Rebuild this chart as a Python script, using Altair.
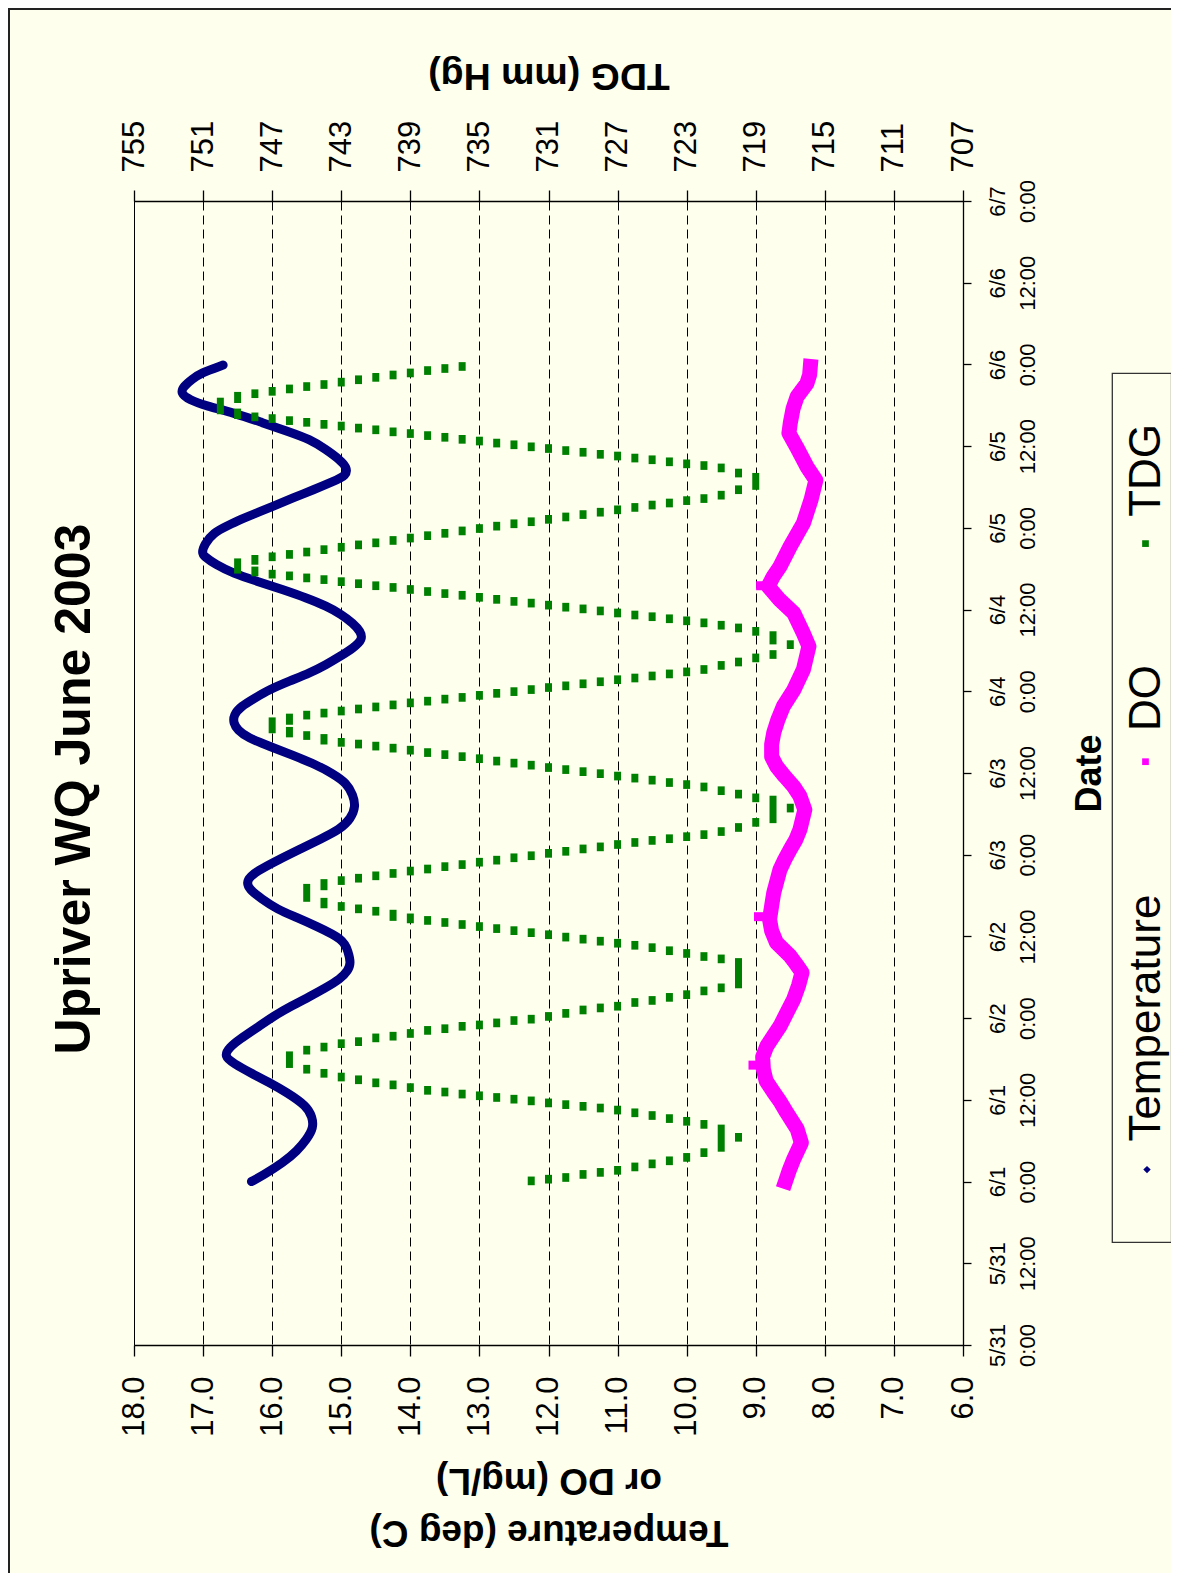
import json
import altair as alt
import pandas as pd

FONT = "Liberation Sans"
BG = "#FFFFEE"

# ---------------- data (hours after 6/1 0:00) ----------------
temp_h = [0.0, 1.0, 2.8, 4.5, 6.2, 7.9, 9.5, 11.1, 13.1, 14.6, 16.0, 17.3, 18.4, 19.7, 20.9, 22.6,
          24.3, 25.8, 27.2, 28.5, 29.7, 31.0, 32.1, 33.8, 35.6, 37.5, 38.8, 40.0, 41.5, 42.9, 43.9,
          44.8, 45.8, 47.3, 48.8, 50.3, 51.7, 53.3, 55.1, 56.8, 58.5, 59.9, 61.2, 62.6, 63.9, 65.2,
          66.3, 67.3, 68.5, 69.8, 71.0, 72.2, 73.5, 74.7, 75.9, 77.1, 78.4, 79.6, 80.8, 82.0, 83.3,
          84.5, 85.7, 86.9, 88.1, 89.3, 90.6, 91.8, 92.3, 93.6, 95.3, 96.3, 97.2, 98.2, 99.2, 100.4,
          101.6, 102.8, 103.7, 104.9, 106.0, 107.5, 109.0, 110.2, 111.4, 112.9, 113.9, 114.8, 115.8,
          116.8, 117.8, 118.7, 119.9]
temp_c = [16.30, 16.12, 15.84, 15.64, 15.50, 15.40, 15.42, 15.50, 15.79, 16.05, 16.32, 16.55, 16.70,
          16.62, 16.47, 16.22, 15.98, 15.72, 15.45, 15.22, 15.02, 14.90, 14.86, 14.90, 14.97, 15.36,
          15.65, 15.93, 16.15, 16.33, 16.37, 16.32, 16.18, 15.90, 15.60, 15.30, 15.02, 14.86, 14.79,
          14.83, 14.92, 15.12, 15.36, 15.70, 16.03, 16.36, 16.50, 16.56, 16.56, 16.45, 16.25, 16.05,
          15.75, 15.45, 15.22, 15.02, 14.82, 14.69, 14.72, 14.83, 15.00, 15.21, 15.50, 15.84, 16.20,
          16.56, 16.82, 16.98, 17.02, 16.98, 16.85, 16.65, 16.47, 16.22, 15.98, 15.70, 15.40, 15.12,
          14.92, 14.92, 15.02, 15.22, 15.45, 15.78, 16.13, 16.56, 16.95, 17.20, 17.33, 17.28, 17.16,
          17.04, 16.71]

do_h = [0.0, 1.5, 3.3, 5.7, 7.7, 10.1, 11.8, 13.1, 14.8, 16.5, 18.3, 19.9, 21.3, 22.8, 24.8, 26.8,
        28.8, 30.7, 32.0, 33.1, 35.1, 36.8, 38.5, 40.5, 42.4, 45.8, 47.3, 48.8, 50.2, 51.7, 54.6,
        56.6, 58.0, 59.5, 61.0, 62.4, 64.2, 65.9, 67.8, 69.8, 72.2, 75.2, 78.6, 80.5, 83.5, 85.4,
        87.4, 88.8, 90.3, 93.3, 96.7, 100.1, 103.0, 105.0, 107.9, 109.9, 111.4, 113.5, 115.3, 117.2,
        118.5, 119.7]
do_mgl = [8.57, 8.52, 8.45, 8.34, 8.40, 8.55, 8.65, 8.74, 8.85, 8.89, 8.90, 8.84, 8.75, 8.65, 8.55,
          8.45, 8.38, 8.33, 8.42, 8.50, 8.70, 8.77, 8.80, 8.77, 8.74, 8.65, 8.58, 8.50, 8.42, 8.36,
          8.29, 8.36, 8.45, 8.58, 8.70, 8.77, 8.77, 8.74, 8.68, 8.60, 8.45, 8.31, 8.23, 8.31, 8.45,
          8.65, 8.82, 8.75, 8.65, 8.50, 8.31, 8.20, 8.13, 8.26, 8.41, 8.52, 8.50, 8.46, 8.40, 8.26,
          8.22, 8.21]
# isolated DO readings sticking out of the band
do_spike_h = [17.1, 38.9, 87.5]
do_spike_mgl = [9.04, 8.96, 8.93]

# single TDG readings
tdg_dot_mmhg = (
    [732, 731, 730, 729, 728, 727, 726, 725, 724, 723, 722, 720]
    + [722, 723, 724, 725, 726, 727, 728, 729, 730, 731, 732, 733, 734, 735, 736, 737, 738, 739, 740, 741, 742, 743, 744, 745]
    + [745, 744, 743, 742, 741, 740, 739, 738, 737, 736, 735, 734, 733, 732, 731, 730, 729, 728, 727, 726, 725, 724, 723, 722, 721]
    + [721, 722, 723, 724, 725, 726, 727, 728, 729, 730, 731, 732, 733, 734, 735, 736, 737, 738, 741, 742, 743]
    + [743, 742, 741, 740, 739, 738, 737, 736, 735, 734, 733, 732, 731, 730, 729, 728, 727, 726, 725, 724, 723, 722, 721, 720, 719, 717]
    + [719, 720, 721, 722, 723, 724, 725, 726, 727, 728, 729, 730, 731, 732, 733, 734, 735, 736, 737, 738, 739, 740, 741, 742, 743, 745]
    + [745, 744, 743, 742, 741, 740, 739, 738, 737, 736, 735, 734, 733, 732, 731, 730, 729, 728, 727, 726, 725, 724, 723, 722, 721, 720, 719, 718, 717, 719, 720, 721, 722]
    + [723, 724, 725, 726, 727, 728, 729, 730, 731, 732, 733, 734, 735, 736, 737, 738, 739, 740, 741, 742, 743, 744, 745, 746, 747]
    + [747, 746, 745, 744, 743, 742, 741, 740, 739, 738, 737, 736, 735, 734, 733, 732, 731, 730, 729, 728, 727, 726, 725, 724, 723, 722, 721, 720]
    + [720, 721, 722, 723, 724, 725, 726, 727, 728, 729, 730, 731, 732, 733, 734, 735, 736, 737, 738, 739, 740, 741, 742, 743, 744, 745, 746, 747, 748]
    + [748, 747, 746, 745, 744, 743, 742, 741, 740, 739, 738, 737, 736]
)
tdg_dot_h = (
    [0.1, 0.35, 0.6, 1.05, 1.35, 1.65, 2.15, 2.6, 3.05, 3.55, 4.25, 6.5]
    + [8.4, 8.85, 9.25, 9.7, 10.1, 10.5, 10.8, 11.05, 11.3, 11.55, 11.85, 12.1, 12.35, 12.6, 12.85, 13.15, 13.4, 13.8, 14.2, 14.5, 14.95, 15.35, 15.9, 16.5]
    + [19.3, 19.75, 20.25, 20.55, 21.1, 21.35, 21.75, 22.2, 22.45, 22.8, 23.0, 23.3, 23.65, 23.85, 24.25, 24.7, 25.2, 25.5, 25.75, 26.3, 26.6, 27.05, 27.45, 28.0, 28.45]
    + [32.7, 33.05, 33.5, 33.9, 34.35, 34.7, 35.0, 35.3, 35.6, 35.9, 36.25, 36.55, 36.85, 37.15, 37.45, 37.75, 38.05, 38.35, 39.7, 40.05, 40.4]
    + [44.2, 44.55, 44.9, 45.25, 45.6, 45.9, 46.25, 46.55, 46.9, 47.2, 47.55, 47.85, 48.2, 48.5, 48.85, 49.15, 49.5, 49.8, 50.1, 50.35, 50.65, 50.95, 51.4, 52.0, 52.75, 54.85]
    + [56.35, 56.9, 57.4, 57.95, 58.3, 58.6, 58.95, 59.25, 59.55, 59.9, 60.2, 60.5, 60.8, 61.15, 61.45, 61.75, 62.1, 62.4, 62.7, 63.0, 63.35, 63.65, 63.95, 64.25, 64.5, 65.5]
    + [68.5, 68.8, 69.1, 69.4, 69.7, 70.0, 70.3, 70.55, 70.85, 71.1, 71.4, 71.7, 71.95, 72.25, 72.55, 72.8, 73.1, 73.4, 73.7, 73.95, 74.25, 74.55, 74.85, 75.2, 75.8, 76.3, 76.9, 77.4, 78.85, 80.8, 81.3, 81.7, 82.05]
    + [82.35, 82.65, 82.95, 83.2, 83.5, 83.8, 84.1, 84.35, 84.65, 84.95, 85.2, 85.5, 85.8, 86.1, 86.35, 86.65, 86.95, 87.25, 87.5, 87.8, 88.1, 88.4, 88.65, 88.95, 89.2]
    + [91.75, 92.1, 92.45, 92.8, 93.15, 93.5, 93.8, 94.15, 94.5, 94.85, 95.2, 95.55, 95.9, 96.25, 96.6, 96.9, 97.25, 97.6, 97.95, 98.3, 98.65, 99.0, 99.35, 99.65, 100.0, 100.3, 100.8, 101.6]
    + [104.05, 104.8, 105.15, 105.4, 105.7, 106.0, 106.25, 106.55, 106.8, 107.1, 107.35, 107.65, 107.9, 108.2, 108.45, 108.75, 109.0, 109.3, 109.55, 109.85, 110.1, 110.4, 110.65, 110.95, 111.2, 111.5, 111.75, 112.05, 112.3]
    + [115.7, 116.05, 116.4, 116.75, 117.05, 117.4, 117.75, 118.1, 118.45, 118.75, 119.1, 119.4, 119.7]
)
# runs of repeated TDG readings (same value over a span of time)
tdg_run_mmhg = [721, 746, 720, 739, 740, 744, 745, 744, 718, 744, 746, 747, 746, 718, 748, 749, 748, 719, 749, 750, 749]
tdg_run_from_h = [4.9, 17.2, 28.9, 38.45, 38.8, 40.65, 41.6, 43.3, 53.15, 64.7, 65.75, 66.35, 67.6, 79.4, 89.4, 89.8, 91.1, 102.1, 112.5, 113.2, 114.85]
tdg_run_to_h = [7.85, 18.6, 32.3, 38.85, 39.4, 41.15, 43.2, 43.9, 56.15, 65.2, 66.25, 67.65, 68.2, 80.3, 89.8, 91.0, 91.5, 103.55, 113.0, 114.6, 115.45]

temp_ticks = list(range(6, 19))
tdg_ticks = list(range(707, 756, 4))
date_tick_hours = list(range(0, 169, 12))
date_tick_day = ["5/31", "5/31", "6/1", "6/1", "6/2", "6/2", "6/3", "6/3", "6/4", "6/4", "6/5", "6/5", "6/6", "6/6", "6/7"]
date_tick_time = ["0:00", "12:00"] * 7 + ["0:00"]
legend_labels = ["Temperature", "DO", "TDG"]
chart_title = "Upriver WQ June 2003"

# ---------------- frames ----------------
temp_df = pd.DataFrame({"hr": [h + 24 for h in temp_h], "val": temp_c})
do_df = pd.DataFrame({"hr": [h + 24 for h in do_h], "val": do_mgl})
do_spike_df = pd.DataFrame({"hr": [h + 24 for h in do_spike_h], "val": do_spike_mgl})
tdg_dot_df = pd.DataFrame({"hr": [h + 24 for h in tdg_dot_h], "mmhg": tdg_dot_mmhg})
tdg_run_df = pd.DataFrame({"hr": [h + 24 for h in tdg_run_from_h],
                           "hr2": [h + 24 for h in tdg_run_to_h], "mmhg": tdg_run_mmhg})
one = pd.DataFrame({"k": [0]})

label_pairs = [[d, t] for d, t in zip(date_tick_day, date_tick_time)]
date_label_expr = json.dumps(label_pairs) + "[round(datum.value / 12)]"

common_axis = dict(labelFont=FONT, labelColor="black", labelFlush=False, labelOverlap=False,
                   tickColor="black", tickWidth=1.3, domainColor="black", domainWidth=1.3,
                   titleFont=FONT, titleColor="black", titleFontWeight="bold",
                   titleAlign="center", titleBaseline="alphabetic")

temp_axis = alt.Axis(orient="bottom", values=temp_ticks, format=".1f", labelAngle=270,
                     labelAlign="right", labelBaseline="middle", labelFontSize=31, labelPadding=20,
                     tickSize=11, grid=True, gridColor="black", gridDash=[9, 5], gridWidth=1,
                     title=["Temperature (deg C)", "or DO (mg/L)"], titleAngle=180, titleFontSize=37,
                     titleX=414.5, titleY=175, titleLineHeight=52, **common_axis)
tdg_axis = alt.Axis(orient="top", values=tdg_ticks, format="d", labelAngle=270,
                    labelAlign="left", labelBaseline="middle", labelFontSize=31, labelPadding=18,
                    tickSize=11, grid=False, title="TDG (mm Hg)", titleAngle=180, titleFontSize=37.5,
                    titleX=414.5, titleY=-138, **common_axis)
date_axis = alt.Axis(orient="right", values=date_tick_hours, labelExpr=date_label_expr, labelAngle=270,
                     labelAlign="center", labelBaseline="top", labelFontSize=22, labelLineHeight=30,
                     labelPadding=16, tickSize=8, grid=False, title="Date", titleAngle=270,
                     titleFontSize=36, titleX=137, titleY=572, **common_axis)

x_temp = alt.X("val:Q", scale=alt.Scale(domain=[6, 18], reverse=True, nice=False, zero=False), axis=temp_axis)
x_tdg = alt.X("mmhg:Q", scale=alt.Scale(domain=[707, 755], reverse=True, nice=False, zero=False), axis=tdg_axis)
y_scale = alt.Scale(domain=[0, 168], nice=False, zero=False)
y_time = alt.Y("hr:Q", scale=y_scale, axis=date_axis)

temp_layer = alt.Chart(temp_df).mark_line(
    color="#000080", strokeWidth=9, interpolate="basis", strokeCap="round", strokeJoin="round"
).encode(x=x_temp, y=y_time, order="hr:Q")
do_layer = alt.Chart(do_df).mark_line(
    color="#FF00FF", strokeWidth=15, strokeCap="square", strokeJoin="round"
).encode(x=x_temp, y=y_time, order="hr:Q")
do_spikes = alt.Chart(do_spike_df).mark_point(
    shape="square", filled=True, size=81, color="#FF00FF", opacity=1
).encode(x=x_temp, y=y_time)

RECT = "M-0.5,-0.62L0.5,-0.62L0.5,0.62L-0.5,0.62Z"
tdg_dots = alt.Chart(tdg_dot_df).mark_point(
    shape=RECT, filled=True, size=196, color="#008000", opacity=1
).encode(x=x_tdg, y=y_time)
tdg_runs = alt.Chart(tdg_run_df).mark_rule(
    color="#008000", strokeWidth=7, strokeCap="square"
).encode(x=x_tdg, y=y_time, y2="hr2:Q")

left_layers = alt.layer(temp_layer, do_layer, do_spikes)
right_layers = alt.layer(tdg_dots, tdg_runs)


def text_layer(s, x, y, size, angle, align, weight="normal"):
    return alt.Chart(one).mark_text(
        angle=angle, align=align, baseline="alphabetic", fontSize=size, font=FONT,
        fontWeight=weight, color="black"
    ).encode(x=alt.value(x), y=alt.value(y), text=alt.value(s))


frame_top = alt.Chart(one).mark_rule(color="#222222", strokeWidth=2).encode(
    x=alt.value(-126), x2=alt.value(1038), y=alt.value(-192))
frame_left = alt.Chart(one).mark_rule(color="#222222", strokeWidth=2).encode(
    x=alt.value(-125), y=alt.value(-193), y2=alt.value(1372))
legend_box = alt.Chart(one).mark_rect(fill=BG, stroke="#333333", strokeWidth=1.3).encode(
    x=alt.value(978.3), x2=alt.value(1037.5), y=alt.value(172.3), y2=alt.value(1041.3))
mk_temp = alt.Chart(one).mark_point(shape="diamond", filled=True, size=55, color="#000080", opacity=1).encode(
    x=alt.value(1013), y=alt.value(968.6))
mk_do = alt.Chart(one).mark_point(shape="square", filled=True, size=45, color="#FF00FF", opacity=1).encode(
    x=alt.value(1011.5), y=alt.value(560.7))
mk_tdg = alt.Chart(one).mark_point(shape="square", filled=True, size=45, color="#008000", opacity=1).encode(
    x=alt.value(1011.5), y=alt.value(342.6))

chart = alt.layer(
    frame_top, frame_left, legend_box,
    left_layers, right_layers,
    mk_temp, mk_do, mk_tdg,
    text_layer(legend_labels[0], 1026, 940.6, 44, 270, "left"),
    text_layer(legend_labels[1], 1026, 530, 44, 270, "left"),
    text_layer(legend_labels[2], 1026, 315.8, 44, 270, "left"),
    text_layer(chart_title, -44, 588, 50, 270, "center", "bold"),
).resolve_scale(x="independent").properties(
    width=829, height=1144,
    padding={"left": 126, "top": 193, "right": 208, "bottom": 228},
    autosize=alt.AutoSizeParams(type="none"),
).configure(background=BG).configure_view(stroke="black", strokeWidth=1)

chart.save("out.html", embed_options={"renderer": "svg", "actions": False})
